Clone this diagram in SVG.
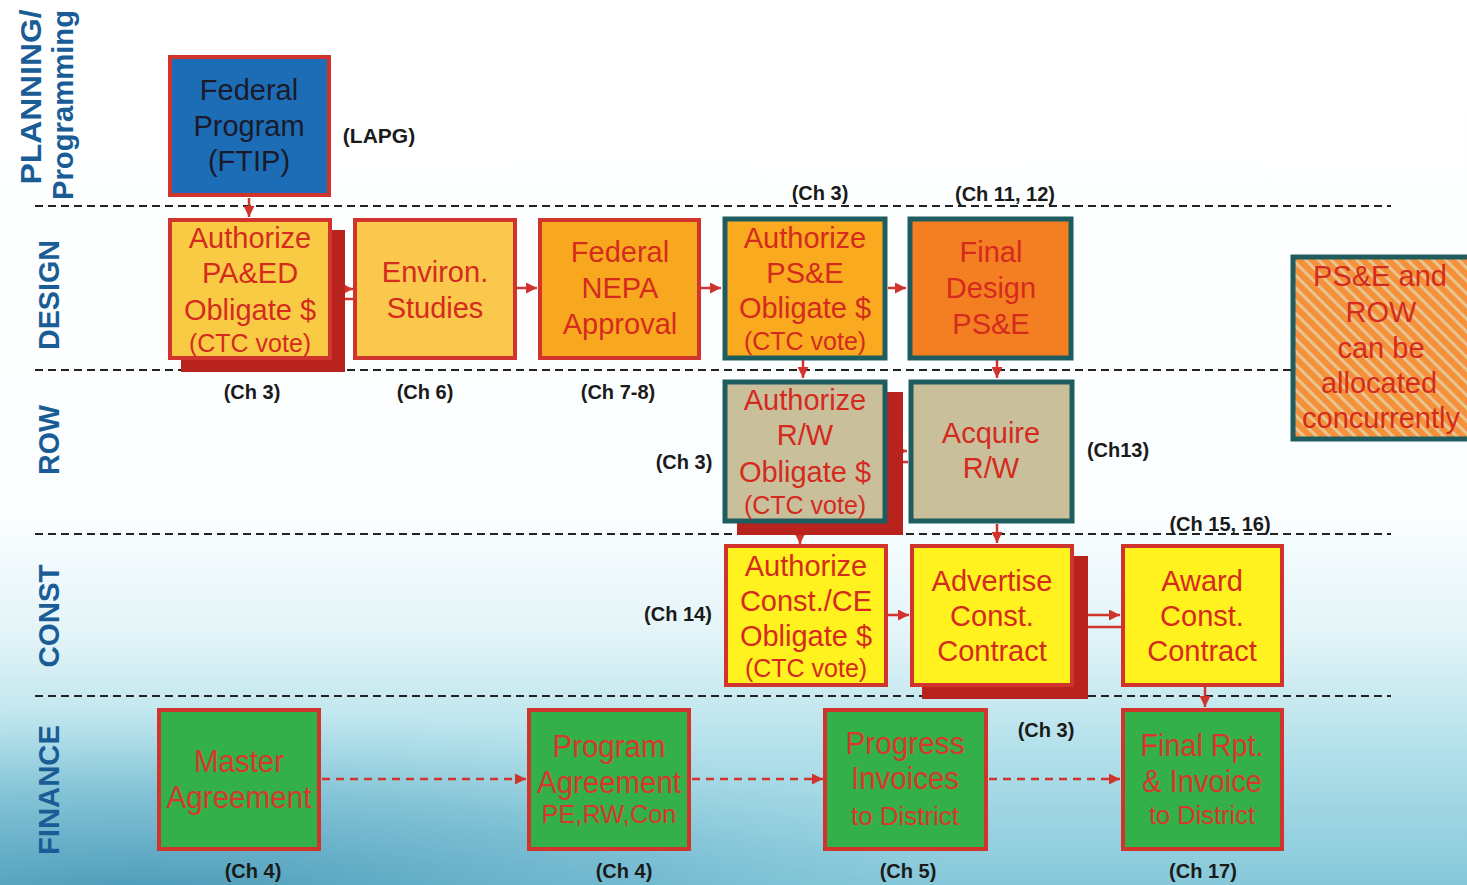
<svg xmlns="http://www.w3.org/2000/svg" width="1467" height="885" viewBox="0 0 1467 885">
<defs>
<linearGradient id="bg" x1="0" y1="0" x2="0" y2="1">
<stop offset="0" stop-color="#ffffff"/>
<stop offset="0.58" stop-color="#fbfeff"/>
<stop offset="0.72" stop-color="#e2f4f8"/>
<stop offset="0.85" stop-color="#b2e0ea"/>
<stop offset="1" stop-color="#86c8da"/>
</linearGradient>
<radialGradient id="bl" cx="0.1" cy="1.05" r="0.6">
<stop offset="0" stop-color="#3f90b0" stop-opacity="0.85"/>
<stop offset="0.6" stop-color="#5aa8c4" stop-opacity="0.4"/>
<stop offset="1" stop-color="#8ccbdc" stop-opacity="0"/>
</radialGradient>
<pattern id="stripes" width="9" height="9" patternUnits="userSpaceOnUse" patternTransform="rotate(-45)">
<rect width="9" height="9" fill="#f4913a"/>
<rect width="3" height="9" fill="#e8c590"/>
</pattern>
<marker id="ah" viewBox="0 0 10 10" refX="10" refY="5" markerWidth="11" markerHeight="11" markerUnits="userSpaceOnUse" orient="auto">
<path d="M0,0 L10,5 L0,10 z" fill="#d0342c"/>
</marker>
</defs>
<style>
.lane{font-family:"Liberation Sans",Arial,sans-serif;font-weight:bold;font-size:29px;fill:#1a5c96;text-anchor:middle}
.sep{stroke:#222;stroke-width:2;stroke-dasharray:8 5;fill:none}
.t{font-family:"Liberation Sans",Arial,sans-serif;font-size:29px;fill:#d42b1e;text-anchor:middle}
.s{font-size:25px}
.tb{font-family:"Liberation Sans",Arial,sans-serif;font-size:29px;fill:#1a1a2a;text-anchor:middle}
.ch{font-family:"Liberation Sans",Arial,sans-serif;font-weight:bold;font-size:20px;fill:#1a1a1a;text-anchor:middle}
.fn{font-family:"Liberation Sans",Arial,sans-serif;font-size:31px;fill:#d8372a;text-anchor:middle}
.fs{font-size:26px}
.rb{stroke:#d0342c;stroke-width:4}
.tb4{stroke:#1e5c60;stroke-width:5}
.sh{fill:#b8231e}
.con{stroke:#d0342c;stroke-width:2.5;fill:none}
.dcon{stroke:#d0342c;stroke-width:2.5;fill:none;stroke-dasharray:8 6}
</style>
<rect width="1467" height="885" fill="url(#bg)"/>
<rect y="560" width="1467" height="325" fill="url(#bl)"/>

<g id="lanes">
<text class="lane" transform="translate(41,97) rotate(-90)" textLength="175" lengthAdjust="spacingAndGlyphs">PLANNING/</text>
<text class="lane" transform="translate(73,105) rotate(-90)" textLength="190" lengthAdjust="spacingAndGlyphs">Programming</text>
<text class="lane" transform="translate(59,295) rotate(-90)" textLength="110" lengthAdjust="spacingAndGlyphs">DESIGN</text>
<text class="lane" transform="translate(59,440) rotate(-90)" textLength="70" lengthAdjust="spacingAndGlyphs">ROW</text>
<text class="lane" transform="translate(59,616) rotate(-90)" textLength="103" lengthAdjust="spacingAndGlyphs">CONST</text>
<text class="lane" transform="translate(59,790) rotate(-90)" textLength="130" lengthAdjust="spacingAndGlyphs">FINANCE</text>
<line class="sep" x1="35" y1="206" x2="1391" y2="206"/>
<line class="sep" x1="35" y1="370" x2="1291" y2="370"/>
<line class="sep" x1="35" y1="534" x2="1391" y2="534"/>
<line class="sep" x1="35" y1="696" x2="1391" y2="696"/>
</g>

<g id="connectors">
<line class="con" x1="249" y1="198" x2="249" y2="217" marker-end="url(#ah)"/>
<line class="con" x1="345" y1="289" x2="353" y2="289" marker-end="url(#ah)"/>
<line class="con" x1="345" y1="299" x2="353" y2="299"/>
<line class="con" x1="517" y1="288" x2="537" y2="288" marker-end="url(#ah)"/>
<line class="con" x1="701" y1="288" x2="721" y2="288" marker-end="url(#ah)"/>
<line class="con" x1="888" y1="288" x2="906" y2="288" marker-end="url(#ah)"/>
<line class="con" x1="803" y1="360" x2="803" y2="378" marker-end="url(#ah)"/>
<line class="con" x1="997" y1="360" x2="997" y2="378" marker-end="url(#ah)"/>
<line class="con" x1="896" y1="451" x2="907" y2="451" marker-end="url(#ah)"/>
<line class="con" x1="902" y1="462" x2="908" y2="462"/>
<line class="con" x1="800" y1="535" x2="800" y2="544" marker-end="url(#ah)"/>
<line class="con" x1="997" y1="524" x2="997" y2="543" marker-end="url(#ah)"/>
<line class="con" x1="888" y1="615" x2="909" y2="615" marker-end="url(#ah)"/>
<line class="con" x1="1088" y1="615" x2="1120" y2="615" marker-end="url(#ah)"/>
<line class="con" x1="1088" y1="627" x2="1121" y2="627"/>
<line class="con" x1="1205" y1="687" x2="1205" y2="707" marker-end="url(#ah)"/>
<line class="dcon" x1="322" y1="779" x2="526" y2="779" marker-end="url(#ah)"/>
<line class="dcon" x1="692" y1="779" x2="823" y2="779" marker-end="url(#ah)"/>
<line class="dcon" x1="989" y1="779" x2="1120" y2="779" marker-end="url(#ah)"/>
</g>

<g id="n-federal-program">
<rect x="170" y="57" width="159" height="138" fill="#1c6db5" class="rb"/>
<text class="tb" x="249" y="100">Federal</text>
<text class="tb" x="249" y="136">Program</text>
<text class="tb" x="249" y="171">(FTIP)</text>
</g>
<text class="ch" x="379" y="143" style="font-size:21px">(LAPG)</text>

<g id="n-authorize-paed">
<rect class="sh" x="181" y="230" width="164" height="142"/>
<rect x="170" y="220" width="160" height="138" fill="#f9cb45" class="rb"/>
<text class="t" x="250" y="248">Authorize</text>
<text class="t" x="250" y="283">PA&amp;ED</text>
<text class="t" x="250" y="320">Obligate $</text>
<text class="t s" x="250" y="352">(CTC vote)</text>
</g>

<g id="n-environ">
<rect x="355" y="220" width="160" height="138" fill="#f9c84c" class="rb"/>
<text class="t" x="435" y="282">Environ.</text>
<text class="t" x="435" y="318">Studies</text>
</g>

<g id="n-nepa">
<rect x="540" y="220" width="159" height="138" fill="#f8a81f" class="rb"/>
<text class="t" x="620" y="262">Federal</text>
<text class="t" x="620" y="298">NEPA</text>
<text class="t" x="620" y="334">Approval</text>
</g>

<g id="n-authorize-pse">
<rect x="725" y="219" width="160" height="139" fill="#f9aa1e" class="tb4"/>
<text class="t" x="805" y="248">Authorize</text>
<text class="t" x="805" y="283">PS&amp;E</text>
<text class="t" x="805" y="318">Obligate $</text>
<text class="t s" x="805" y="350">(CTC vote)</text>
</g>

<g id="n-final-design">
<rect x="910" y="219" width="161" height="139" fill="#f47e22" class="tb4"/>
<text class="t" x="991" y="262">Final</text>
<text class="t" x="991" y="298">Design</text>
<text class="t" x="991" y="334">PS&amp;E</text>
</g>

<g id="n-authorize-rw">
<rect class="sh" x="737" y="392" width="166" height="143"/>
<rect x="725" y="382" width="160" height="139" fill="#c9bf9b" class="tb4"/>
<text class="t" x="805" y="410">Authorize</text>
<text class="t" x="805" y="445">R/W</text>
<text class="t" x="805" y="482">Obligate $</text>
<text class="t s" x="805" y="514">(CTC vote)</text>
</g>

<g id="n-acquire-rw">
<rect x="911" y="382" width="161" height="139" fill="#c9bf9b" class="tb4"/>
<text class="t" x="991" y="443">Acquire</text>
<text class="t" x="991" y="478">R/W</text>
</g>

<g id="n-note">
<rect x="1293" y="257" width="180" height="182" fill="url(#stripes)" class="tb4"/>
<text class="t" x="1380" y="286">PS&amp;E and</text>
<text class="t" x="1381" y="322">ROW</text>
<text class="t" x="1381" y="358">can be</text>
<text class="t" x="1379" y="393">allocated</text>
<text class="t" x="1381" y="428">concurrently</text>
</g>

<g id="n-authorize-const">
<rect x="726" y="546" width="160" height="139" fill="#fff21e" class="rb"/>
<text class="t" x="806" y="576">Authorize</text>
<text class="t" x="806" y="611">Const./CE</text>
<text class="t" x="806" y="646">Obligate $</text>
<text class="t s" x="806" y="677">(CTC vote)</text>
</g>

<g id="n-advertise">
<rect class="sh" x="922" y="556" width="166" height="143"/>
<rect x="912" y="546" width="160" height="139" fill="#fff21e" class="rb"/>
<text class="t" x="992" y="591">Advertise</text>
<text class="t" x="992" y="626">Const.</text>
<text class="t" x="992" y="661">Contract</text>
</g>

<g id="n-award">
<rect x="1123" y="546" width="159" height="139" fill="#fff21e" class="rb"/>
<text class="t" x="1202" y="591">Award</text>
<text class="t" x="1202" y="626">Const.</text>
<text class="t" x="1202" y="661">Contract</text>
</g>

<g id="n-master">
<rect x="159" y="710" width="160" height="139" fill="#34b04a" class="rb"/>
<text class="fn" x="239" y="772" textLength="90" lengthAdjust="spacingAndGlyphs">Master</text>
<text class="fn" x="239" y="808" textLength="145" lengthAdjust="spacingAndGlyphs">Agreement</text>
</g>

<g id="n-program-agreement">
<rect x="529" y="710" width="160" height="139" fill="#34b04a" class="rb"/>
<text class="fn" x="609" y="757" textLength="113" lengthAdjust="spacingAndGlyphs">Program</text>
<text class="fn" x="609" y="793" textLength="144" lengthAdjust="spacingAndGlyphs">Agreement</text>
<text class="fn fs" x="609" y="823" textLength="135" lengthAdjust="spacingAndGlyphs">PE,RW,Con</text>
</g>

<g id="n-progress">
<rect x="825" y="710" width="161" height="139" fill="#34b04a" class="rb"/>
<text class="fn" x="905" y="754" textLength="119" lengthAdjust="spacingAndGlyphs">Progress</text>
<text class="fn" x="905" y="789" textLength="108" lengthAdjust="spacingAndGlyphs">Invoices</text>
<text class="fn fs" x="905" y="825" textLength="108" lengthAdjust="spacingAndGlyphs">to District</text>
</g>

<g id="n-final-rpt">
<rect x="1123" y="710" width="159" height="139" fill="#34b04a" class="rb"/>
<text class="fn" x="1202" y="756" textLength="123" lengthAdjust="spacingAndGlyphs">Final Rpt.</text>
<text class="fn" x="1202" y="792" textLength="120" lengthAdjust="spacingAndGlyphs">&amp; Invoice</text>
<text class="fn fs" x="1202" y="824" textLength="106" lengthAdjust="spacingAndGlyphs">to District</text>
</g>

<g id="labels">
<text class="ch" x="820" y="200">(Ch 3)</text>
<text class="ch" x="1005" y="201">(Ch 11, 12)</text>
<text class="ch" x="252" y="399">(Ch 3)</text>
<text class="ch" x="425" y="399">(Ch 6)</text>
<text class="ch" x="618" y="399">(Ch 7-8)</text>
<text class="ch" x="684" y="469">(Ch 3)</text>
<text class="ch" x="1118" y="457">(Ch13)</text>
<text class="ch" x="1220" y="531">(Ch 15, 16)</text>
<text class="ch" x="678" y="621">(Ch 14)</text>
<text class="ch" x="1046" y="737">(Ch 3)</text>
<text class="ch" x="253" y="878">(Ch 4)</text>
<text class="ch" x="624" y="878">(Ch 4)</text>
<text class="ch" x="908" y="878">(Ch 5)</text>
<text class="ch" x="1203" y="878">(Ch 17)</text>
</g>
</svg>
